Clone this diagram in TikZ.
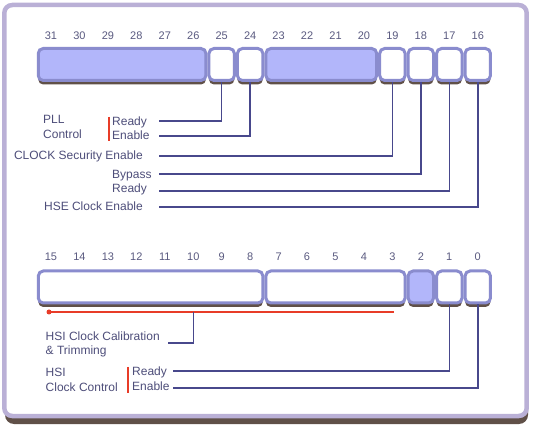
\documentclass[tikz,border=0pt]{standalone}
\usepackage{fontspec}
\setmainfont{Liberation Sans}
\usetikzlibrary{shadows}

\definecolor{framec}{RGB}{186,176,214}
\definecolor{shadowc}{RGB}{96,80,72}
\definecolor{boxc}{RGB}{138,140,206}
\definecolor{resc}{RGB}{178,182,250}
\definecolor{wirec}{RGB}{72,72,140}
\definecolor{txtc}{RGB}{78,78,122}
\definecolor{numc}{RGB}{90,90,128}
\definecolor{redc}{RGB}{232,60,40}

\begin{document}
\begin{tikzpicture}[x=1pt,y=-1pt,
		num/.style={text=numc, font=\fontsize{11}{13}\selectfont, inner sep=0pt},
		lbl/.style={text=txtc, font=\fontsize{12}{14}\selectfont, inner sep=0pt},
		bitbox/.style={draw=boxc, line width=3pt, fill=white, rounded corners=5pt,
			minimum height=32pt, minimum width=25.45pt, inner sep=0pt,
			drop shadow={shadow xshift=0pt, shadow yshift=-4pt, opacity=1, fill=shadowc}},
		resbox/.style={bitbox, fill=resc},
		wire/.style={draw=wirec, line width=1.5pt},
		redline/.style={draw=redc, line width=2pt}]
		\useasboundingbox (0,0) rectangle (533,430);

		%% frame
		\fill[shadowc, rounded corners=9pt] (5,9) rectangle (528,424);
		\draw[framec, line width=4.5pt, fill=white, rounded corners=8pt] (4.3,5) rectangle (526.7,416);

		%% bits 31-16
		\node[num] at (51,36)(n31){31};
		\node[num] at (79.45,36)(n30){30};
		\node[num] at (107.9,36)(n29){29};
		\node[num] at (136.35,36)(n28){28};
		\node[num] at (164.8,36)(n27){27};
		\node[num] at (193.25,36)(n26){26};
		\node[num] at (221.7,36)(n25){25};
		\node[num] at (250.15,36)(n24){24};
		\node[num] at (278.6,36)(n23){23};
		\node[num] at (307.05,36)(n22){22};
		\node[num] at (335.5,36)(n21){21};
		\node[num] at (363.95,36)(n20){20};
		\node[num] at (392.4,36)(n19){19};
		\node[num] at (420.85,36)(n18){18};
		\node[num] at (449.3,36)(n17){17};
		\node[num] at (477.75,36)(n16){16};

		\node[resbox, minimum width=167.7pt] at (122.1,64.5)(b31){};
		\node[bitbox] at (221.7,64.5)(b25){};
		\node[bitbox] at (250.15,64.5)(b24){};
		\node[resbox, minimum width=110.8pt] at (321.3,64.5)(b23){};
		\node[bitbox] at (392.4,64.5)(b19){};
		\node[bitbox] at (420.85,64.5)(b18){};
		\node[bitbox] at (449.3,64.5)(b17){};
		\node[bitbox] at (477.75,64.5)(b16){};

		\node[lbl, anchor=base west] at (43,124)(pll){PLL};
		\node[lbl, anchor=base west] at (43,138.5)(pllctl){Control};
		\node[lbl, anchor=base west] at (112,125.5)(pllrdy){Ready};
		\node[lbl, anchor=base west] at (112,140)(pllon){Enable};
		\node[lbl, anchor=base east] at (143,160)(css){CLOCK Security Enable};
		\node[lbl, anchor=base west] at (112,178.5)(hsebyp){Bypass};
		\node[lbl, anchor=base west] at (112,192.5)(hserdy){Ready};
		\node[lbl, anchor=base east] at (143,210.5)(hseon){HSE Clock Enable};

		\draw[redline] (108.5,117)--(108.5,141);

		\coordinate (e25) at (159,121);
		\coordinate (e24) at (159,136);
		\coordinate (e19) at (159,156);
		\coordinate (e18) at (159,174);
		\coordinate (e17) at (159,191);
		\coordinate (e16) at (159,207);
		\draw[wire] (b25.south)|-(e25) (b24.south)|-(e24) (b19.south)|-(e19)
			(b18.south)|-(e18) (b17.south)|-(e17) (b16.south)|-(e16);


		%% bits 15-0
		\node[num] at (51,257)(n15){15};
		\node[num] at (79.45,257)(n14){14};
		\node[num] at (107.9,257)(n13){13};
		\node[num] at (136.35,257)(n12){12};
		\node[num] at (164.8,257)(n11){11};
		\node[num] at (193.25,257)(n10){10};
		\node[num] at (221.7,257)(n9){9};
		\node[num] at (250.15,257)(n8){8};
		\node[num] at (278.6,257)(n7){7};
		\node[num] at (307.05,257)(n6){6};
		\node[num] at (335.5,257)(n5){5};
		\node[num] at (363.95,257)(n4){4};
		\node[num] at (392.4,257)(n3){3};
		\node[num] at (420.85,257)(n2){2};
		\node[num] at (449.3,257)(n1){1};
		\node[num] at (477.75,257)(n0){0};

		\node[bitbox, minimum width=224.6pt] at (150.6,287)(b15){};
		\node[bitbox, minimum width=139.25pt] at (335.5,287)(b7){};
		\node[resbox] at (420.85,287)(b2){};
		\node[bitbox] at (449.3,287)(b1){};
		\node[bitbox] at (477.75,287)(b0){};

		\coordinate (cal0) at (49,312);
		\coordinate (cal1) at (394,312);
		\coordinate (cal10) at (193.25,312);
		\fill[redc] (cal0) circle (2.5pt);
		\draw[redline] (cal0)--(cal1);

		\node[lbl, anchor=base west] at (45.5,340.5)(hsical){HSI Clock Calibration};
		\node[lbl, anchor=base west] at (45.5,355)(hsitrim){\& Trimming};
		\node[lbl, anchor=base west] at (45.5,376.5)(hsi){HSI};
		\node[lbl, anchor=base west] at (45.5,391.5)(hsictl){Clock Control};
		\node[lbl, anchor=base west] at (132,376)(hsirdy){Ready};
		\node[lbl, anchor=base west] at (132,390.5)(hsion){Enable};

		\draw[redline] (128.3,367)--(128.3,393);

		\coordinate (ecal) at (168,343);
		\coordinate (e1) at (173,371);
		\coordinate (e0) at (173,388);
		\draw[wire] (cal10)|-(ecal) (b1.south)|-(e1) (b0.south)|-(e0);
	\end{tikzpicture}
\end{document}
